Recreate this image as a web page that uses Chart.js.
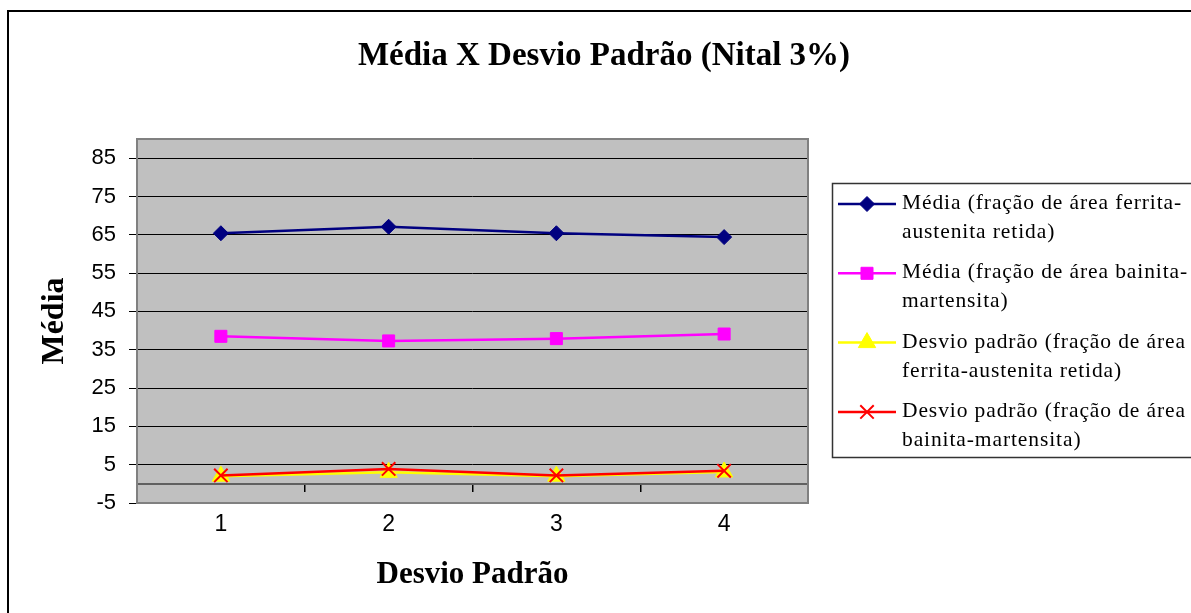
<!DOCTYPE html>
<html>
<head>
<meta charset="utf-8">
<script src="https://cdn.jsdelivr.net/npm/chart.js@4/dist/chart.umd.min.js"></script>
<style>
  html, body { margin: 0; padding: 0; background: #ffffff; }
  canvas { display: block; }
</style>
</head>
<body>
<canvas id="grafico" width="1191" height="613"></canvas>
<script>
// Amostras (eixo das categorias)
const categories = ['1', '2', '3', '4'];

// Séries
const mediaFerritaAustenita = [65.4, 67.1, 65.4, 64.4];
const mediaBainitaMartensita = [38.5, 37.3, 37.9, 39.1];
const desvioFerritaAustenita = [2.0, 3.0, 2.0, 3.1];
const desvioBainitaMartensita = [2.2, 3.9, 2.2, 3.4];

const seriesNames = [
  'Média (fração de área ferrita-austenita retida)',
  'Média (fração de área bainita-martensita)',
  'Desvio padrão (fração de área ferrita-austenita retida)',
  'Desvio padrão (fração de área bainita-martensita)'
];

// Marcas do eixo vertical
const yTickValues = [-5, 5, 15, 25, 35, 45, 55, 65, 75, 85];
const yMin = -5;
const yMax = 90;

const chartTitle = 'Média X Desvio Padrão (Nital 3%)';
const xAxisTitle = 'Desvio Padrão';
const yAxisTitle = 'Média';

const SERIF = '"Liberation Serif", "Times New Roman", Times, serif';
const SANS = '"Liberation Sans", Arial, Helvetica, sans-serif';

// Moldura externa, fundo da área de plotagem e título
const framePlugin = {
  id: 'frame',
  beforeDraw(chart) {
    const { ctx, chartArea: a, width, height } = chart;
    ctx.save();
    ctx.fillStyle = '#ffffff';
    ctx.fillRect(0, 0, width, height);
    ctx.fillStyle = '#c0c0c0';
    ctx.fillRect(a.left, a.top, a.right - a.left, a.bottom - a.top);
    ctx.strokeStyle = '#000000';
    ctx.lineWidth = 2;
    ctx.strokeRect(8, 11, width + 20, height + 20);
    ctx.restore();
  },
  beforeDatasetsDraw(chart) {
    const { ctx, chartArea: a } = chart;
    ctx.save();
    ctx.strokeStyle = '#808080';
    ctx.lineWidth = 2;
    ctx.strokeRect(a.left, a.top, a.right - a.left, a.bottom - a.top);
    ctx.restore();
  },
  afterDraw(chart) {
    const { ctx } = chart;
    ctx.save();
    ctx.fillStyle = '#000000';
    ctx.font = 'bold 33px ' + SERIF;
    ctx.textAlign = 'center';
    ctx.textBaseline = 'alphabetic';
    ctx.fillText(chartTitle, 604, 65);
    ctx.restore();
  }
};

// Legenda em caixa, com rótulos em duas linhas
function wrapLabel(ctx, text, maxWidth) {
  const pieces = text.split(/(?<=-)|(?<= )/);
  const lines = [];
  let current = '';
  for (const p of pieces) {
    const trial = current + p;
    if (current && ctx.measureText(trial.trimEnd()).width > maxWidth) {
      lines.push(current.trimEnd());
      current = p;
    } else {
      current = trial;
    }
  }
  if (current) lines.push(current.trimEnd());
  return lines;
}

const boxLegendPlugin = {
  id: 'boxLegend',
  afterDraw(chart) {
    const { ctx } = chart;
    const box = { x: 832, y: 183, w: 400, h: 274 };
    ctx.save();
    ctx.strokeStyle = '#333333';
    ctx.lineWidth = 1.5;
    ctx.strokeRect(box.x + 0.5, box.y + 0.5, box.w, box.h);

    ctx.font = '21.5px ' + SERIF;
    if ('letterSpacing' in ctx) ctx.letterSpacing = '0.9px';
    ctx.textAlign = 'left';
    ctx.textBaseline = 'alphabetic';
    const firstBaseline = 209;
    const entryGap = 69.3;
    const lineGap = 29;

    chart.data.datasets.forEach((ds, i) => {
      const base = firstBaseline + i * entryGap;
      const ly = base - 5;
      ctx.strokeStyle = ds.borderColor;
      ctx.lineWidth = ds.borderWidth;
      ctx.beginPath();
      ctx.moveTo(838, ly);
      ctx.lineTo(896, ly);
      ctx.stroke();

      ctx.fillStyle = ds.pointBackgroundColor;
      ctx.strokeStyle = ds.pointBorderColor;
      ctx.lineWidth = ds.pointBorderWidth;
      Chart.helpers.drawPoint(ctx, {
        pointStyle: ds.pointStyle,
        radius: ds.pointRadius,
        rotation: 0,
        borderWidth: ds.pointBorderWidth
      }, 867, ly);

      ctx.fillStyle = '#000000';
      const lines = wrapLabel(ctx, ds.label, 292);
      lines.forEach((t, k) => ctx.fillText(t, 902, base + k * lineGap));
    });
    ctx.restore();
  }
};

function series(label, data, color, style, radius, pointBorderWidth, order) {
  return {
    label, data,
    borderColor: color,
    backgroundColor: color,
    borderWidth: 2.5,
    pointStyle: style,
    pointRadius: radius,
    pointHoverRadius: radius,
    pointBackgroundColor: color,
    pointBorderColor: color,
    pointBorderWidth: pointBorderWidth,
    tension: 0,
    order
  };
}

new Chart(document.getElementById('grafico'), {
  type: 'line',
  data: {
    labels: categories,
    datasets: [
      series(seriesNames[0], mediaFerritaAustenita, '#000080', 'rectRot', 7.5, 1, 0),
      series(seriesNames[1], mediaBainitaMartensita, '#ff00ff', 'rect', 8.5, 1, 0),
      series(seriesNames[2], desvioFerritaAustenita, '#ffff00', 'triangle', 10, 1, 0),
      series(seriesNames[3], desvioBainitaMartensita, '#ff0000', 'crossRot', 9.5, 2, -1)
    ]
  },
  options: {
    responsive: false,
    animation: false,
    devicePixelRatio: 1,
    events: [],
    layout: { padding: { left: 0, top: 139, right: 383, bottom: 0 } },
    plugins: {
      legend: { display: false },
      title: { display: false },
      tooltip: { enabled: false }
    },
    scales: {
      x: {
        type: 'category',
        offset: true,
        grid: { display: false, drawTicks: false, tickLength: 0 },
        border: { display: false },
        ticks: { color: '#000000', font: { family: SANS, size: 23 }, padding: 8 },
        title: {
          display: true, text: xAxisTitle, color: '#000000',
          font: { family: SERIF, size: 31, weight: 'bold' },
          padding: { top: 0, bottom: 19 }
        },
        afterFit(scale) { scale.height = 110; }
      },
      xZero: {
        type: 'category',
        labels: categories,
        offset: true,
        position: { y: 0 },
        grid: { offset: true, drawOnChartArea: false, drawTicks: true, tickLength: 7, color: '#000000', lineWidth: 1.5 },
        border: { display: true, color: '#606060', width: 2 },
        ticks: { display: false }
      },
      y: {
        type: 'linear',
        min: yMin,
        max: yMax,
        afterBuildTicks(scale) { scale.ticks = yTickValues.map(v => ({ value: v })); },
        grid: { color: '#000000', lineWidth: 1, drawTicks: true, tickLength: 8 },
        border: { display: false },
        ticks: { color: '#000000', font: { family: SANS, size: 22 }, padding: 13 },
        title: {
          display: true, text: yAxisTitle, color: '#000000',
          font: { family: SERIF, size: 32, weight: 'bold' },
          padding: { top: 36, bottom: 0 }
        },
        afterFit(scale) { scale.width = 137; }
      }
    }
  },
  plugins: [framePlugin, boxLegendPlugin]
});
</script>
</body>
</html>
